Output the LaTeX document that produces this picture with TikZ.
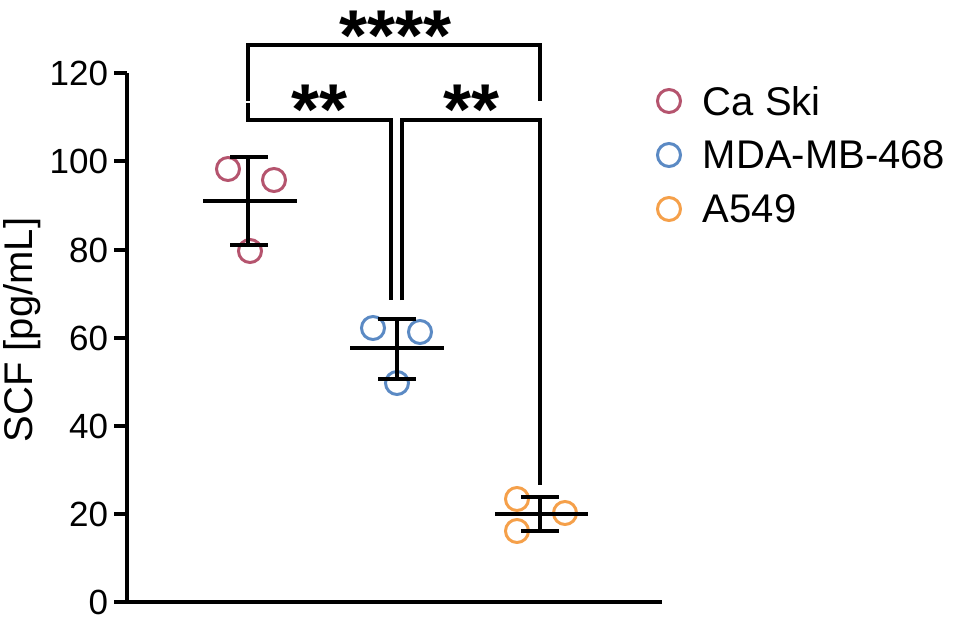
\documentclass[tikz,border=0pt]{standalone}
\usepackage{fontspec}
\setmainfont{Liberation Sans}
\definecolor{caski}{HTML}{B5546E}
\definecolor{mda}{HTML}{5B8AC4}
\definecolor{asf}{HTML}{F5A04A}
\begin{document}
\begin{tikzpicture}[x=1pt,y=-1pt,line width=3.2pt,
  pt/.style={circle,draw=#1,line width=3pt,minimum size=23pt,inner sep=0pt},
  lab/.style={font=\fontsize{35}{35}\selectfont},
  leg/.style={font=\fontsize{40}{40}\selectfont},
  star/.style={font=\fontsize{72}{72}\selectfont\bfseries,inner sep=0pt}]
\useasboundingbox (0,0) rectangle (967,624);
% axes
\coordinate (o) at (127,602);
\draw (127,73) -- (o) -- (662,602);
\foreach \v/\y in {0/602,20/514,40/426,60/338,80/250,100/161,120/73}{
  \draw (114,\y) -- (127,\y);
  \node[lab,anchor=east] (t\v) at (113,\y) {\v};
}
\node[leg,rotate=90] (ylab) at (22,330) {SCF [pg/mL]};
% Ca Ski
\node[pt=caski] (c1) at (228,169) {};
\node[pt=caski] (c2) at (274,180) {};
\node[pt=caski] (c3) at (250,251) {};
\draw (203,201) -- (297,201);
\draw (248,157) -- (248,245) (230,157) -- (268,157) (230,245) -- (268,245);
% MDA
\node[pt=mda] (m1) at (373,328) {};
\node[pt=mda] (m2) at (420,332) {};
\node[pt=mda] (m3) at (397,383) {};
\draw (350,348) -- (444,348);
\draw (397,319) -- (397,379) (378,319) -- (416,319) (378,379) -- (416,379);
% A549
\node[pt=asf] (a1) at (517,499) {};
\node[pt=asf] (a2) at (565,513) {};
\node[pt=asf] (a3) at (517,531) {};
\draw (495,514) -- (588,514);
\draw (540,497) -- (540,531) (521,497) -- (559,497) (521,531) -- (559,531);
% brackets
\draw (248,101) -- (248,45) -- (540,45) -- (540,101);
\draw (248,103) -- (248,120) -- (391,120) -- (391,300);
\draw (402,300) -- (402,120) -- (540,120) -- (540,485);
\node[star] (s1) at (396,36) {****};
\node[star] (s2) at (320,110) {**};
\node[star] (s3) at (472,110) {**};
% legend
\node[pt=caski] (l1) at (669,101) {};
\node[pt=mda] (l2) at (669,155) {};
\node[pt=asf] (l3) at (669,209) {};
\node[leg,anchor=west] (lt1) at (698,101) {Ca Ski};
\node[leg,anchor=west] (lt2) at (698,155) {MDA-MB-468};
\node[leg,anchor=west] (lt3) at (698,209) {A549};
\end{tikzpicture}
\end{document}
